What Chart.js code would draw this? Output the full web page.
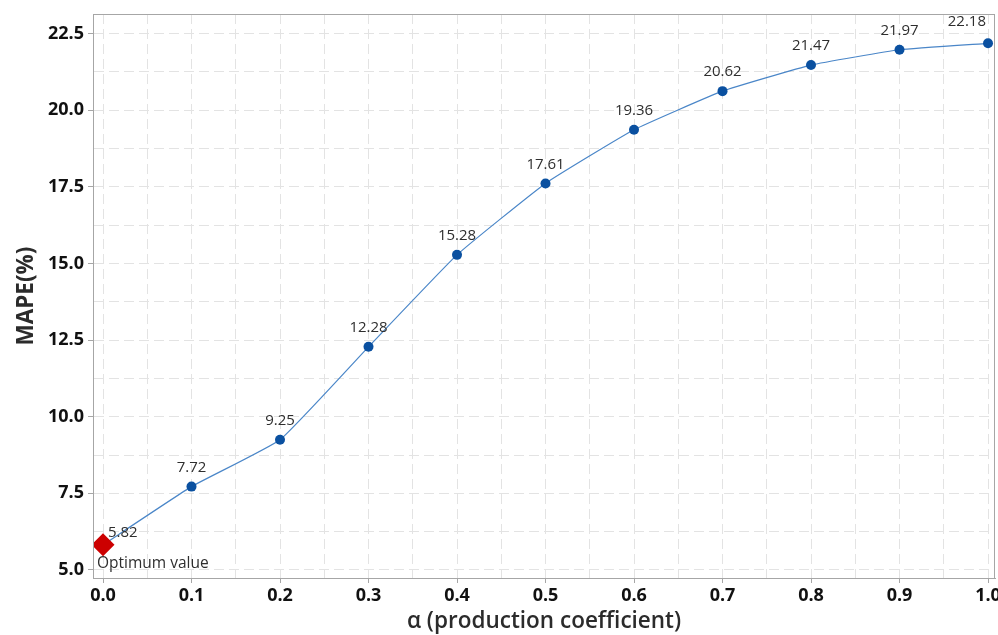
<!DOCTYPE html>
<html>
<head>
<meta charset="utf-8">
<script src="https://cdn.jsdelivr.net/npm/chart.js@4"></script>
<style>
  html, body { margin: 0; padding: 0; background: #fff; }
  #wrap { width: 998px; height: 635px; }
</style>
</head>
<body>
<div id="wrap"><canvas id="myChart"></canvas></div>
<script>
var alphas = [0.0, 0.1, 0.2, 0.3, 0.4, 0.5, 0.6, 0.7, 0.8, 0.9, 1.0];
var mape = [5.82, 7.72, 9.25, 12.28, 15.28, 17.61, 19.36, 20.62, 21.47, 21.97, 22.18];
var optimum_note = "Optimum value";
var x_title = "α (production coefficient)";
var y_title = "MAPE(%)";

var FONT = "'Open Sans', 'Noto Sans', sans-serif";
var frame_color = '#a6a6a6';
var grid_color = '#e3e3e3';

var points = [];
for (var i = 0; i < alphas.length; i++) {
  points.push({x: alphas[i], y: mape[i]});
}

// first point is the optimum (red diamond), the rest are blue dots
var point_colors = [];
var point_styles = [];
var point_radius = [];
for (var i = 0; i < points.length; i++) {
  point_colors.push(i == 0 ? '#cc0000' : '#0a50a0');
  point_styles.push(i == 0 ? 'rectRot' : 'circle');
  point_radius.push(i == 0 ? 11.5 : 5);
}

function is_major(v, step) {
  return Math.abs(Math.round(v / step) * step - v) < 1e-6;
}

// let the last x label hang over the edge like the original
function no_padding(scale) {
  scale.paddingLeft = 0;
  scale.paddingRight = 0;
  scale.paddingTop = 0;
  scale.paddingBottom = 0;
  scale.getPadding = function() { return {left: 0, top: 0, right: 0, bottom: 0}; };
}

const frame_plugin = {
  id: 'frame',
  afterDraw(chart) {
    const a = chart.chartArea;
    const ctx = chart.ctx;
    ctx.save();
    ctx.strokeStyle = frame_color;
    ctx.lineWidth = 1;
    ctx.strokeRect(a.left + 0.5, a.top + 0.5, a.right - a.left - 1, a.bottom - a.top);
    ctx.restore();
  }
};

const label_plugin = {
  id: 'valueLabels',
  afterDatasetsDraw(chart) {
    const ctx = chart.ctx;
    const meta = chart.getDatasetMeta(0);
    ctx.save();
    ctx.fillStyle = '#2e2e2e';
    ctx.textBaseline = 'middle';
    for (var i = 0; i < meta.data.length; i++) {
      const el = meta.data[i];
      const txt = mape[i].toFixed(2);
      ctx.font = '15px ' + FONT;
      if (i == 0) {
        ctx.textAlign = 'left';
        ctx.fillText(txt, el.x + 5, el.y - 12);
        ctx.font = '15.5px ' + FONT;
        ctx.fillText(optimum_note, el.x - 6, el.y + 19);
        continue;
      }
      const w = ctx.measureText(txt).width;
      var cx = Math.min(el.x, chart.width - 12 - w / 2);
      var cy = el.y - 19;
      if (cx != el.x) cy -= 3;
      ctx.textAlign = 'center';
      ctx.fillText(txt, cx, cy);
    }
    ctx.restore();
  }
};

const data = {
  datasets: [{
    data: points,
    showLine: true,
    borderColor: '#4a86c8',
    borderWidth: 1.2,
    tension: 0.12,
    pointBackgroundColor: point_colors,
    pointBorderColor: point_colors,
    pointBorderWidth: 0,
    pointStyle: point_styles,
    pointRadius: point_radius,
    pointHoverRadius: point_radius
  }]
};

const config = {
  type: 'scatter',
  data,
  options: {
    responsive: true,
    maintainAspectRatio: false,
    animation: false,
    events: [],
    layout: {autoPadding: false, padding: {top: 14, right: 3, left: 0, bottom: 0}},
    plugins: {
      legend: {display: false},
      tooltip: {enabled: false}
    },
    scales: {
      x: {
        type: 'linear',
        min: -0.0113,
        max: 1.0079,
        afterFit(scale) {
          scale.height = 57;
          no_padding(scale);
        },
        grid: {
          color: grid_color,
          lineWidth: 1,
          tickLength: 5,
          tickColor: (c) => is_major(c.tick.value, 0.1) ? frame_color : 'rgba(0,0,0,0)'
        },
        border: {display: true, color: frame_color, dash: [10, 5]},
        ticks: {
          stepSize: 0.05,
          includeBounds: false,
          maxRotation: 0,
          autoSkip: false,
          padding: 2,
          color: '#111111',
          font: {family: FONT, size: 18, weight: 'bold'},
          callback: (v) => is_major(v, 0.1) ? v.toFixed(1) : ''
        },
        title: {
          display: true,
          text: x_title,
          color: '#2b2b2b',
          font: {family: FONT, size: 22.5, weight: '600'},
          padding: {top: 0, bottom: 0}
        }
      },
      y: {
        type: 'linear',
        min: 4.739,
        max: 23.136,
        afterFit(scale) {
          scale.width = 93;
          no_padding(scale);
        },
        grid: {
          color: grid_color,
          lineWidth: 1,
          tickLength: 5,
          tickColor: (c) => is_major(c.tick.value, 2.5) ? frame_color : 'rgba(0,0,0,0)'
        },
        border: {display: true, color: frame_color, dash: [10, 5]},
        ticks: {
          stepSize: 1.25,
          includeBounds: false,
          autoSkip: false,
          padding: 4,
          color: '#111111',
          font: {family: FONT, size: 18, weight: 'bold'},
          callback: (v) => is_major(v, 2.5) ? v.toFixed(1) : ''
        },
        title: {
          display: true,
          text: y_title,
          color: '#2b2b2b',
          font: {family: FONT, size: 22.5, weight: 'bold'},
          padding: {top: 13, bottom: 0}
        }
      }
    }
  },
  plugins: [frame_plugin, label_plugin]
};

var myChart = new Chart(document.getElementById('myChart'), config);
</script>
</body>
</html>
